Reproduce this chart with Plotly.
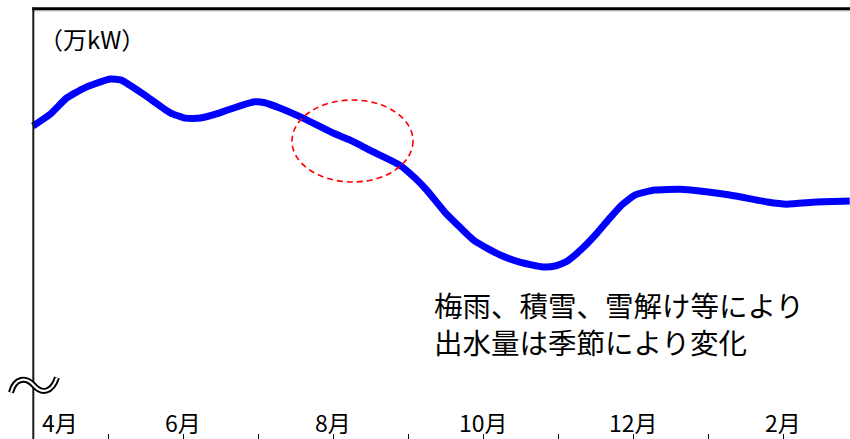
import plotly.graph_objects as go

W, H = 850, 439

# month position (0 = start of April), relative output level (index)
months = [0.00, 0.23, 0.45, 0.69, 0.89, 1.03, 1.17, 1.51, 1.83, 2.03, 2.23, 2.49,
          2.76, 2.96, 3.09, 3.29, 3.60, 4.00, 4.25, 4.49, 4.89, 5.09, 5.25, 5.49,
          5.69, 5.89, 6.23, 6.49, 6.80, 6.96, 7.12, 7.33, 7.52, 7.69, 7.85, 8.03,
          8.29, 8.63, 8.89, 9.29, 9.79, 10.05, 10.45, 10.89]
output = [71.3, 74.0, 77.7, 80.0, 81.3, 82.0, 81.8, 78.1, 74.3, 73.1, 73.1, 74.3,
          75.9, 76.8, 76.6, 75.4, 73.1, 69.7, 67.9, 65.8, 62.4, 59.5, 56.7, 51.7,
          48.3, 45.1, 41.9, 40.3, 39.2, 39.4, 40.5, 43.5, 46.9, 50.3, 53.3, 55.6,
          56.7, 56.9, 56.5, 55.6, 54.0, 53.5, 54.0, 54.2]

tick_positions = [0, 1, 2, 3, 4, 5, 6, 7, 8, 9, 10, 11]
label_positions = [0, 2, 4, 6, 8, 10]
label_texts = ["4月", "6月", "8月", "10月", "12月", "2月"]

unit_text = "（万kW）"
note_lines = ["梅雨、積雪、雪解け等により", "出水量は季節により変化"]

FONT = "Noto Sans CJK JP"
X0PX, MPX = 33, 75  # left axis pixel, pixels per month


def px(x):
    return x / W


def py(y):
    return 1 - y / H


fig = go.Figure()
fig.add_trace(go.Scatter(
    x=months, y=output, mode="lines",
    line=dict(color="#0000ff", width=7, shape="spline", smoothing=0.5),
    hoverinfo="skip", showlegend=False,
))

shapes = []
# top frame line
shapes.append(dict(type="line", xref="paper", yref="paper",
                   x0=px(32), x1=px(850), y0=py(11), y1=py(11),
                   line=dict(color="#c8c8c8", width=1)))
shapes.append(dict(type="line", xref="paper", yref="paper",
                   x0=px(32), x1=px(850), y0=py(8.7), y1=py(8.7),
                   line=dict(color="#000000", width=3)))
# left axis line
shapes.append(dict(type="line", xref="paper", yref="paper",
                   x0=px(33.3), x1=px(33.3), y0=py(7.5), y1=py(439),
                   line=dict(color="#1a1a1a", width=2)))
# dashed ellipse
shapes.append(dict(type="circle", xref="paper", yref="paper",
                   x0=px(292), x1=px(413), y0=py(182), y1=py(100),
                   line=dict(color="#ff0000", width=1.6, dash="6px,4px")))

# axis break symbol (double wave)
pts = [(11, 394), (15, 379), (26, 378), (34, 387), (42, 396), (52, 394), (57, 379)]


def wave(dy):
    p = [(px(a), py(b + dy)) for a, b in pts]
    s = "M %f,%f C %f,%f %f,%f %f,%f C %f,%f %f,%f %f,%f" % (
        p[0][0], p[0][1], p[1][0], p[1][1], p[2][0], p[2][1], p[3][0], p[3][1],
        p[4][0], p[4][1], p[5][0], p[5][1], p[6][0], p[6][1])
    return s


shapes.append(dict(type="path", xref="paper", yref="paper", path=wave(-1.5),
                   line=dict(color="#000000", width=6)))
shapes.append(dict(type="path", xref="paper", yref="paper", path=wave(-1.5),
                   line=dict(color="#ffffff", width=2.2)))

annotations = []
for pos, txt in zip(label_positions, label_texts):
    annotations.append(dict(
        x=pos, y=py(422), xref="x", yref="paper", text=txt, showarrow=False,
        xanchor="center", yanchor="middle",
        xshift=27 if pos == 0 else 0,
        font=dict(family=FONT, size=23, color="#000000")))

annotations.append(dict(
    x=px(37), y=py(38), xref="paper", yref="paper", text=unit_text,
    showarrow=False, xanchor="left", yanchor="middle",
    font=dict(family=FONT, size=24, color="#000000")))

for i, line in enumerate(note_lines):
    annotations.append(dict(
        x=px(433), y=py(304 + 37 * i), xref="paper", yref="paper", text=line,
        showarrow=False, xanchor="left", yanchor="middle", align="left",
        borderpad=0,
        font=dict(family=FONT, size=28.5, color="#000000")))

fig.update_layout(
    width=W, height=H,
    margin=dict(l=0, r=0, t=0, b=0),
    paper_bgcolor="white", plot_bgcolor="white",
    shapes=shapes, annotations=annotations,
    xaxis=dict(range=[-X0PX / MPX, (W - X0PX) / MPX], showgrid=False,
               zeroline=False, showline=False, tickmode="array",
               tickvals=tick_positions, ticks="inside", ticklen=5,
               tickwidth=1, tickcolor="#000000", showticklabels=False,
               fixedrange=True),
    yaxis=dict(range=[0, 100], visible=False, fixedrange=True),
)

fig.write_html("out.html")
